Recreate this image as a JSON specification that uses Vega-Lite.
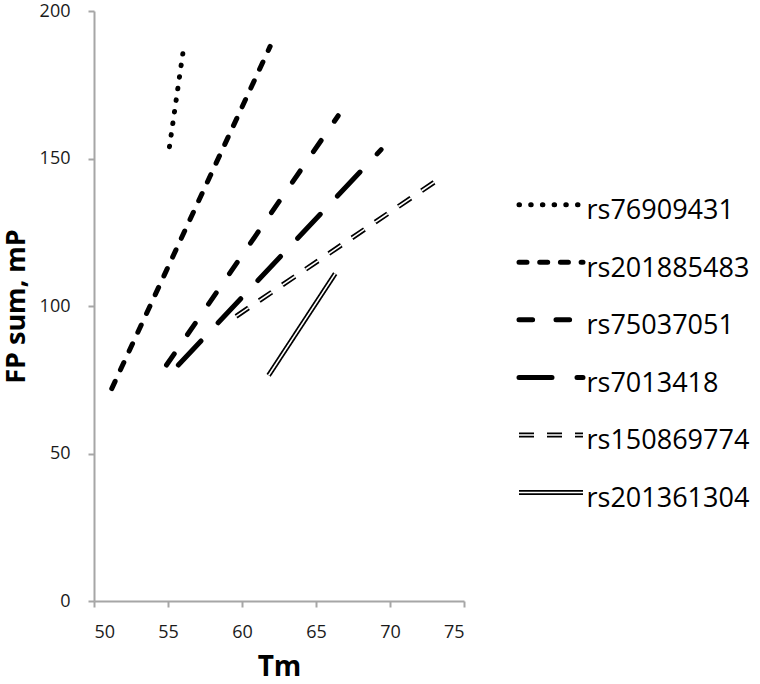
{
  "$schema": "https://vega.github.io/schema/vega-lite/v6.json",
  "padding": {"left": 2, "top": 2, "right": 5, "bottom": 4},
  "background": "white",
  "config": {"view": {"stroke": null}, "font": "Open Sans"},
  "datasets": {
    "lines": [
      {"series": "rs76909431", "Tm": 55.1, "FP": 154},
      {"series": "rs76909431", "Tm": 56.0, "FP": 185.5},
      {"series": "rs201885483", "Tm": 51.2, "FP": 72},
      {"series": "rs201885483", "Tm": 61.9, "FP": 188},
      {"series": "rs75037051", "Tm": 54.9, "FP": 80},
      {"series": "rs75037051", "Tm": 66.5, "FP": 164.5},
      {"series": "rs7013418", "Tm": 55.7, "FP": 80},
      {"series": "rs7013418", "Tm": 69.4, "FP": 153},
      {"series": "rs150869774", "Tm": 59.6, "FP": 96.5},
      {"series": "rs150869774", "Tm": 73.0, "FP": 142},
      {"series": "rs201361304", "Tm": 61.8, "FP": 76.5},
      {"series": "rs201361304", "Tm": 66.3, "FP": 111}
    ]
  },
  "data": {"name": "lines"},
  "bounds": "flush",
  "center": true,
  "spacing": 55,
  "hconcat": [
    {
      "width": 370,
      "height": 590,
      "encoding": {
        "x": {
          "field": "Tm", "type": "quantitative",
          "scale": {"domain": [50, 75], "nice": false, "zero": false},
          "axis": {
            "values": [50, 55, 60, 65, 70, 75], "title": "Tm", "grid": false,
            "titleFontSize": 28, "titleFontWeight": "bold", "titleColor": "black", "titlePadding": 12,
            "labelFontSize": 18, "labelColor": "#1a1a1a", "labelPadding": 16,
            "domainColor": "#a6a6a6", "domainWidth": 2, "tickColor": "#a6a6a6", "tickWidth": 2, "tickSize": 6
          }
        },
        "y": {
          "field": "FP", "type": "quantitative",
          "scale": {"domain": [0, 200], "nice": false},
          "axis": {
            "values": [0, 50, 100, 150, 200], "title": "FP sum, mP", "grid": false,
            "titleFontSize": 27, "titleFontWeight": "bold", "titleColor": "black", "titlePadding": 9,
            "labelFontSize": 18, "labelColor": "#1a1a1a", "labelPadding": 18,
            "domainColor": "#a6a6a6", "domainWidth": 2, "tickColor": "#a6a6a6", "tickWidth": 2, "tickSize": 6
          }
        },
        "strokeDash": {
          "field": "series", "type": "nominal", "legend": null,
          "scale": {
            "domain": ["rs76909431", "rs201885483", "rs75037051", "rs7013418", "rs150869774", "rs201361304"],
            "range": [[0.5, 11.2], [8, 12.7], [13.6, 23.4], [33, 25], [15, 13], [1, 0]]
          }
        }
      },
      "layer": [
        {
          "transform": [{"filter": "indexof(['rs150869774','rs201361304'], datum.series) < 0"}],
          "mark": {"type": "line", "strokeCap": "round", "strokeWidth": 5, "color": "black"}
        },
        {
          "transform": [{"filter": "indexof(['rs150869774','rs201361304'], datum.series) >= 0"}],
          "mark": {"type": "line", "strokeCap": "butt", "strokeWidth": 5, "color": "black"}
        },
        {
          "transform": [{"filter": "indexof(['rs150869774','rs201361304'], datum.series) >= 0"}],
          "mark": {"type": "line", "strokeCap": "butt", "strokeWidth": 1.6, "color": "white"}
        }
      ]
    },
    {
      "width": 64,
      "height": 403,
      "transform": [{"aggregate": [{"op": "count", "as": "n"}], "groupby": ["series"]}],
      "encoding": {
        "x": {"datum": 0, "type": "quantitative", "scale": {"domain": [0, 1], "nice": false, "zero": false}, "axis": null},
        "x2": {"datum": 1},
        "y": {
          "field": "series", "type": "nominal",
          "scale": {
            "type": "point",
            "domain": ["rs76909431", "rs201885483", "rs75037051", "rs7013418", "rs150869774", "rs201361304"],
            "padding": 1, "align": 0.87
          },
          "axis": {
            "orient": "right", "title": null, "domain": false, "ticks": false, "grid": false,
            "labelFontSize": 27, "labelColor": "black", "labelPadding": 3, "labelOffset": 6, "labelBaseline": "middle"
          }
        },
        "strokeDash": {
          "field": "series", "type": "nominal", "legend": null,
          "scale": {
            "domain": ["rs76909431", "rs201885483", "rs75037051", "rs7013418", "rs150869774", "rs201361304"],
            "range": [[0.5, 11.2], [8, 12.7], [13.6, 23.4], [33, 25], [15, 13], [1, 0]]
          }
        }
      },
      "layer": [
        {
          "transform": [{"filter": "indexof(['rs150869774','rs201361304'], datum.series) < 0"}],
          "mark": {"type": "rule", "strokeCap": "round", "strokeWidth": 5, "color": "black"}
        },
        {
          "transform": [{"filter": "indexof(['rs150869774','rs201361304'], datum.series) >= 0"}],
          "mark": {"type": "rule", "strokeCap": "butt", "strokeWidth": 5, "color": "black"}
        },
        {
          "transform": [{"filter": "indexof(['rs150869774','rs201361304'], datum.series) >= 0"}],
          "mark": {"type": "rule", "strokeCap": "butt", "strokeWidth": 1.6, "color": "white"}
        }
      ]
    }
  ]
}
